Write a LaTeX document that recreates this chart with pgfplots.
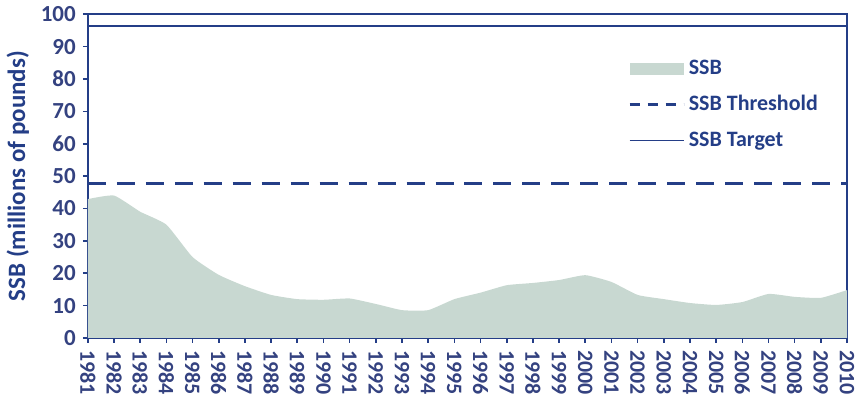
\documentclass[border=0pt]{standalone}
\usepackage{pgfplots}
\pgfplotsset{compat=1.18}
\usepackage{fontspec}
\setmainfont{Carlito}
\definecolor{navy}{RGB}{36,62,135}
\definecolor{txt}{RGB}{52,66,128}
\definecolor{ssbfill}{RGB}{200,216,209}
\begin{document}
\begin{tikzpicture}
\begin{axis}[
  width=380pt, height=162pt, scale only axis,
  xmin=1981, xmax=2010, ymin=0, ymax=100,
  xtick={1981,...,2010}, ytick={0,10,...,100},
  /pgf/number format/1000 sep={},
  /pgf/number format/assume math mode=true,
  x tick label style={rotate=-90, anchor=west, font=\bfseries\fontsize{11}{12}\selectfont, text=txt},
  y tick label style={font=\bfseries\fontsize{11.5}{12}\selectfont, text=txt},
  ylabel={SSB (millions of pounds)},
  ylabel style={font=\bfseries\fontsize{12.5}{14}\selectfont, text=navy, yshift=-1pt},
  axis line style={navy, line width=1pt},
  tick style={navy, line width=0.8pt},
  tick align=outside, major tick length=2.5pt,
  xtick pos=bottom, ytick pos=left,
  legend style={at={(0.975,0.885)}, anchor=north east, draw=none, fill=none,
    font=\bfseries\fontsize{11}{13}\selectfont, text=navy, row sep=5pt},
  legend cell align=left,
]
\addplot[fill=ssbfill, draw=none, smooth, tension=0.3,
  legend image code/.code={\fill[ssbfill] (0pt,-3pt) rectangle (27pt,3pt);}]
  coordinates {
  (1981,42.9) (1982,44) (1983,39) (1984,35) (1985,25) (1986,19.5)
  (1987,16) (1988,13.3) (1989,12) (1990,11.8) (1991,12.2) (1992,10.5)
  (1993,8.6) (1994,8.6) (1995,12) (1996,14) (1997,16.3) (1998,17)
  (1999,17.9) (2000,19.4) (2001,17.3) (2002,13.3) (2003,12) (2004,10.8)
  (2005,10.2) (2006,11.1) (2007,13.6) (2008,12.7) (2009,12.4) (2010,14.8)
  } \closedcycle;
\addlegendentry{SSB}
\addplot[navy, line width=1.4pt, dash pattern=on 9pt off 5.5pt,
  legend image code/.code={\draw[navy, line width=1.2pt, dash pattern=on 5pt off 4pt] (0pt,0pt) -- (27pt,0pt);}]
  coordinates {(1981,47.8) (2010,47.8)};
\addlegendentry{SSB Threshold}
\addplot[navy, line width=1pt,
  legend image code/.code={\draw[navy, line width=0.8pt] (0pt,0pt) -- (27pt,0pt);}]
  coordinates {(1981,96.3) (2010,96.3)};
\addlegendentry{SSB Target}
\end{axis}
\end{tikzpicture}
\end{document}
